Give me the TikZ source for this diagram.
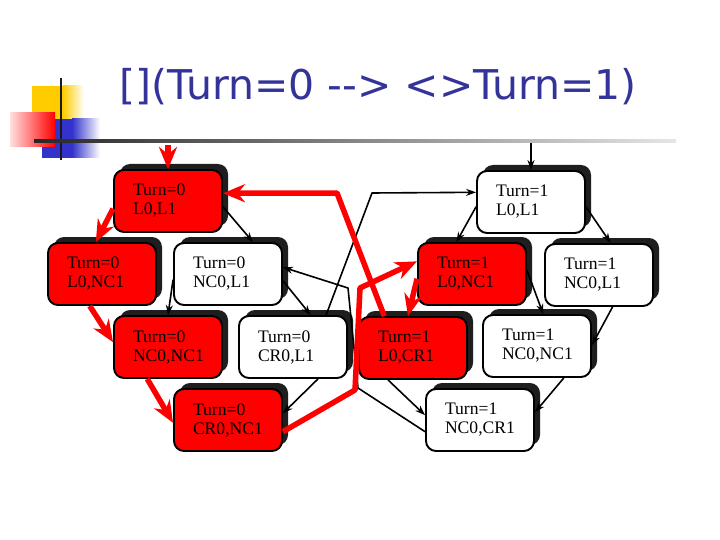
\documentclass[tikz,border=0pt]{standalone}
\usepackage{fontspec}
\setmainfont{Liberation Serif}
\newfontfamily\titlefont{DejaVu Sans}
\usepackage{tikz}
\usetikzlibrary{arrows.meta}
\usetikzlibrary{shadows}
\definecolor{titleblue}{RGB}{51,51,153}
\definecolor{logoyellow}{RGB}{255,204,0}
\definecolor{logoblue}{RGB}{51,51,204}
\definecolor{shadowgray}{RGB}{30,30,30}
\tikzset{
    statenode/.style = {rectangle, rounded corners=10pt, draw=black, line width=1.9pt, minimum width=108pt, minimum height=62pt, text width=70pt, inner xsep=19pt, inner ysep=0pt, align=left, font=\fontsize{17.6}{19}\selectfont, drop shadow={shadow xshift=6pt, shadow yshift=6pt, fill=shadowgray, opacity=1}},
    red_state/.style = {statenode, fill=red},
    white_state/.style = {statenode, fill=white},
    move/.style = {->, line width=1.6pt, >={Stealth[length=10pt,width=7pt]}},
    red_move/.style = {->, red, line width=5.5pt, >={Stealth[length=22pt,width=18pt]}}
}

\begin{document}
\begin{tikzpicture}
            [x=1pt, y=-1pt, line join=round]

            \fill[white] (0,0) rectangle (720,540);
            \useasboundingbox (0,0) rectangle (720,540);

            % logo
            \fill[logoyellow] (32,86) rectangle (63,119);
            \shade[left color=logoyellow, right color=white] (63,86) rectangle (84,119);
            \fill[logoblue] (42,119) rectangle (72,158);
            \shade[left color=logoblue, right color=white] (72,119) rectangle (100,158);
            \shade[left color=red!12, right color=red] (10,113) rectangle (55,147);
            \draw[line width=2.5pt, black!90] (61,78) -- (61,160);
            \shade[left color=black!85, right color=black!10] (34,139.5) rectangle (676,142.5);

            \node [anchor=base, text=titleblue, font=\titlefont\fontsize{41}{41}\selectfont] (title) at (378,100) {[](Turn=0 -{}-> <>Turn=1)};

            % states
            \node [red_state]   (s0_L0L1)   at (168,201) {Turn=0\\L0,L1};
            \node [white_state] (s1_L0L1)   at (531,202) {Turn=1\\L0,L1};
            \node [red_state]   (s0_L0NC1)  at (102,274) {Turn=0\\L0,NC1};
            \node [white_state] (s0_NC0L1)  at (228,274) {Turn=0\\NC0,L1};
            \node [red_state]   (s1_L0NC1)  at (472,274) {Turn=1\\L0,NC1};
            \node [white_state] (s1_NC0L1)  at (599,275) {Turn=1\\NC0,L1};
            \node [red_state]   (s0_NC0NC1) at (168,347) {Turn=0\\NC0,NC1};
            \node [white_state] (s0_CR0L1)  at (293,347) {Turn=0\\CR0,L1};
            \node [red_state]   (s1_L0CR1)  at (413,348) {Turn=1\\L0,CR1};
            \node [white_state] (s1_NC0NC1) at (537,346) {Turn=1\\NC0,NC1};
            \node [red_state]   (s0_CR0NC1) at (228,420) {Turn=0\\CR0,NC1};
            \node [white_state] (s1_NC0CR1) at (480,420) {Turn=1\\NC0,CR1};

            \coordinate (init0) at (168,145);
            \coordinate (init1) at (531,143);
            \coordinate (h_up)  at (372,193);
            \coordinate (l_lo)  at (358,388);
            \coordinate (l_hi)  at (348,288);
            \coordinate (k_lo)  at (355,390);
            \coordinate (k_hi)  at (360,288);
            \coordinate (i_up)  at (337,193);

            % black moves
            \draw [move] (init1) -- (s1_L0L1.north);
            \draw [move] (s0_L0L1.-6) -- (s0_NC0L1.52);
            \draw [move] (s1_L0L1.185) -- (s1_L0NC1.116);
            \draw [move] (s1_L0L1.-5) -- (s1_NC0L1.70);
            \draw [move] (s0_CR0L1.44) -- (h_up) -- (s1_L0L1.170);
            \draw [move] (s0_NC0L1.186) -- (s0_NC0NC1.north);
            \draw [move] (s0_NC0L1.-7) -- (s0_CR0L1.61);
            \draw [move] (s1_NC0CR1.192) -- (l_lo) -- (l_hi) -- (s0_NC0L1.7);
            \draw [move] (s0_CR0L1.-52) -- (s0_CR0NC1.7);
            \draw [move] (s1_L0NC1.4) -- (s1_NC0NC1.79);
            \draw [move] (s1_NC0L1.-67) -- (s1_NC0NC1.1);
            \draw [move] (s1_L0CR1.232) -- (s1_NC0CR1.175);
            \draw [move] (s1_NC0NC1.-50) -- (s1_NC0CR1.8);

            % red path
            \draw [red_move] (init0) -- (s0_L0L1.north);
            \draw [red_move] (s0_L0L1.188) -- (s0_L0NC1.101);
            \draw [red_move] (s0_L0NC1.249) -- (s0_NC0NC1.175);
            \draw [red_move] (s0_NC0NC1.237) -- (s0_CR0NC1.183);
            \draw [red_move] (s0_CR0NC1.-12) -- (k_lo) -- (k_hi) -- (s1_L0NC1.167);
            \draw [red_move] (s1_L0NC1.185) -- (s1_L0CR1.99);
            \draw [red_move] (s1_L0CR1.132) -- (i_up) -- (s0_L0L1.8);
\end{tikzpicture}
\end{document}
